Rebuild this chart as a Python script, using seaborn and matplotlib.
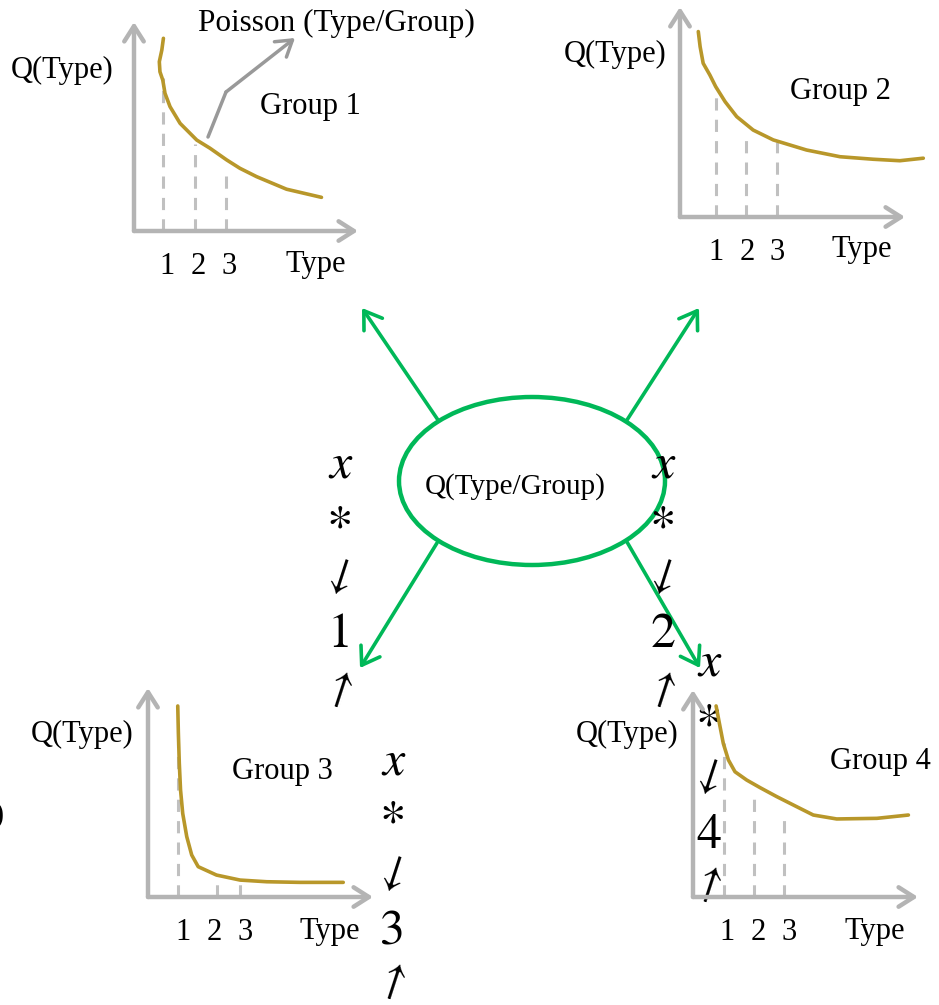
import numpy as np
import pandas as pd
import matplotlib
matplotlib.use('Agg')
import matplotlib.pyplot as plt
from matplotlib.patches import Ellipse
import seaborn as sns

sns.set_style('white')
plt.rcParams['font.family'] = ['Liberation Serif', 'DejaVu Serif']
plt.rcParams['text.color'] = 'black'

# Curvas Q(Type) de cada grupo (x em unidades de Type, y em unidades de Q)
g1_x = [0.95, 0.90, 0.82, 0.84, 0.93, 1.00, 1.16, 1.48, 2.01, 2.43, 2.96, 3.38, 3.91, 4.86, 5.97]
g1_y = [9.22, 8.66, 8.10, 7.62, 7.22, 6.59, 5.95, 5.15, 4.35, 3.96, 3.40, 3.00, 2.60, 2.00, 1.61]
g2_x = [0.42, 0.48, 0.58, 0.80, 0.99, 1.30, 1.68, 2.22, 2.88, 3.97, 5.07, 6.16, 7.03, 7.80]
g2_y = [8.83, 8.11, 7.32, 6.76, 6.21, 5.49, 4.78, 4.14, 3.67, 3.19, 2.87, 2.75, 2.68, 2.80]
g3_x = [0.93, 0.95, 0.98, 1.02, 1.09, 1.22, 1.38, 1.59, 2.18, 2.94, 3.80, 4.87, 6.27]
g3_y = [9.14, 7.83, 6.40, 5.12, 4.00, 2.89, 2.01, 1.45, 1.05, 0.81, 0.73, 0.70, 0.70]
g4_x = [0.70, 0.81, 0.94, 1.11, 1.33, 1.72, 2.17, 2.72, 3.39, 3.94, 4.72, 6.06, 7.11]
g4_y = [9.23, 8.39, 7.42, 6.62, 6.05, 5.65, 5.28, 4.85, 4.36, 3.96, 3.77, 3.80, 3.96]

# Linhas tracejadas em Type = 1, 2, 3 (altura até a curva)
g1_dash_x = [0.95, 1.95, 2.95]
g1_dash_y = [7.32, 4.16, 2.87]
g2_dash_x = [1.0, 2.0, 3.0]
g2_dash_y = [6.19, 4.00, 3.57]
g3_dash_x = [0.95, 2.2, 2.95]
g3_dash_y = [7.37, 0.95, 0.80]
g4_dash_x = [0.95, 1.95, 2.95]
g4_dash_y = [7.44, 5.07, 4.06]

tick_labels = ['1', '2', '3']
group_names = ['Group 1', 'Group 2', 'Group 3', 'Group 4']

W, H = 939, 1005
GOLD = '#b8972a'
GRAY = '#b4b4b4'
DASH = '#c0c0c0'
GREEN = '#00b858'

fig = plt.figure(figsize=(W / 100, H / 100), dpi=100)
ax0 = fig.add_axes([0, 0, 1, 1])
ax0.set_xlim(0, W)
ax0.set_ylim(H, 0)
ax0.axis('off')

# layout de cada mini-gráfico (em pixels)
groups = [
    dict(x=g1_x, y=g1_y, dx=g1_dash_x, dy=g1_dash_y, origin=(134, 231), tip=358, top=22,
         xlim=(0.016, 7.13), q=(62, 70), name=(310, 106), ticks=([167, 198, 229], 266), typ=(316, 264)),
    dict(x=g2_x, y=g2_y, dx=g2_dash_x, dy=g2_dash_y, origin=(680, 217), tip=905, top=7,
         xlim=(-0.18, 7.20), q=(615, 54), name=(840, 91), ticks=([716, 747, 777], 252), typ=(862, 249)),
    dict(x=g3_x, y=g3_y, dx=g3_dash_x, dy=g3_dash_y, origin=(148, 897), tip=373, top=688,
         xlim=(-0.03, 7.23), q=(82, 734), name=(282, 771), ticks=([183, 214, 245], 932), typ=(330, 931)),
    dict(x=g4_x, y=g4_y, dx=g4_dash_x, dy=g4_dash_y, origin=(693, 897), tip=918, top=690,
         xlim=(-0.07, 7.43), q=(627, 734), name=(880, 761), ticks=([727, 758, 789], 932), typ=(875, 931)),
]

fs = 22
for g, nome in zip(groups, group_names):
    ox, oy = g['origin']
    ax = fig.add_axes([ox / W, 1 - oy / H, (g['tip'] - ox) / W, (oy - g['top']) / H])
    ax.set_xlim(*g['xlim'])
    ax.set_ylim(0, 10)
    ax.axis('off')
    ax.patch.set_alpha(0)
    # eixos com seta
    for fim in [(1, 0), (0, 1)]:
        ax.annotate('', xy=fim, xytext=(0, 0), xycoords='axes fraction',
                    arrowprops=dict(arrowstyle='->,head_length=0.55,head_width=0.35',
                                    lw=3.2, color=GRAY, shrinkA=0, shrinkB=0, mutation_scale=20,
                                    capstyle='round', joinstyle='round'))
    ax.vlines(g['dx'], 0, g['dy'], colors=DASH, linestyles=(0, (4, 3)), lw=2.2)
    df = pd.DataFrame({'Type': g['x'], 'Q': g['y']})
    sns.lineplot(data=df, x='Type', y='Q', sort=False, estimator=None, ax=ax,
                 color=GOLD, lw=2.6, clip_on=False)
    ax.set_xlabel('')
    ax.set_ylabel('')

    ax0.text(*g['q'], 'Q(Type)', fontsize=fs, ha='center', va='center')
    ax0.text(*g['name'], nome, fontsize=fs, ha='center', va='center')
    ax0.text(*g['typ'], 'Type', fontsize=fs, ha='center', va='center')
    for tx, lab in zip(g['ticks'][0], tick_labels):
        ax0.text(tx, g['ticks'][1], lab, fontsize=fs, ha='center', va='center')

# Poisson
ax0.plot([208, 226], [137, 92], color='#999999', lw=2.5, solid_capstyle='round')
ax0.annotate('', xy=(295, 38), xytext=(226, 92),
             arrowprops=dict(arrowstyle='->,head_length=0.55,head_width=0.35', lw=2.5,
                             color='#999999', shrinkA=0, shrinkB=0, mutation_scale=20))
ax0.text(336, 23, 'Poisson (Type/Group)', fontsize=22.5, ha='center', va='center')

# elipse central
ax0.add_patch(Ellipse((532, 481), 266, 168, fill=False, ec=GREEN, lw=3.2))
ax0.text(515, 487, 'Q(Type/Group)', fontsize=21, ha='center', va='center')

setas = [((438, 420), (362, 308)), ((627, 420), (699, 308)),
         ((437, 543), (360, 668)), ((627, 542), (700, 668))]
for ini, fim in setas:
    ax0.annotate('', xy=fim, xytext=ini,
                 arrowprops=dict(arrowstyle='->,head_length=0.6,head_width=0.4', lw=2.6,
                                 color=GREEN, shrinkA=0, shrinkB=0, mutation_scale=20,
                                 capstyle='round', joinstyle='round'))

# colunas x * ↓ n ↑
colunas = [(340, [465, 530, 577, 635, 690], '1'), (663, [465, 530, 577, 635, 690], '2'),
           (393, [762, 825, 874, 933, 982], '3'), (709, [663, 728, 777, 836, 885], '4')]
for cx, ys, n in colunas:
    ax0.text(cx, ys[0], 'x', fontsize=36, ha='center', va='center',
             family='STIXGeneral', style='italic')
    ax0.text(cx, ys[1], '*', fontsize=38, ha='center', va='center', family='STIXGeneral')
    ax0.text(cx, ys[2], '↓', fontsize=32, ha='center', va='center',
             family='STIXGeneral', rotation=-18)
    ax0.text(cx, ys[3], n, fontsize=36, ha='center', va='center', family='STIXGeneral')
    ax0.text(cx, ys[4], '↑', fontsize=32, ha='center', va='center',
             family='STIXGeneral', rotation=-18)

ax0.text(-2, 815, ')', fontsize=fs, ha='center', va='center')

fig.savefig('out.png', dpi=100)
